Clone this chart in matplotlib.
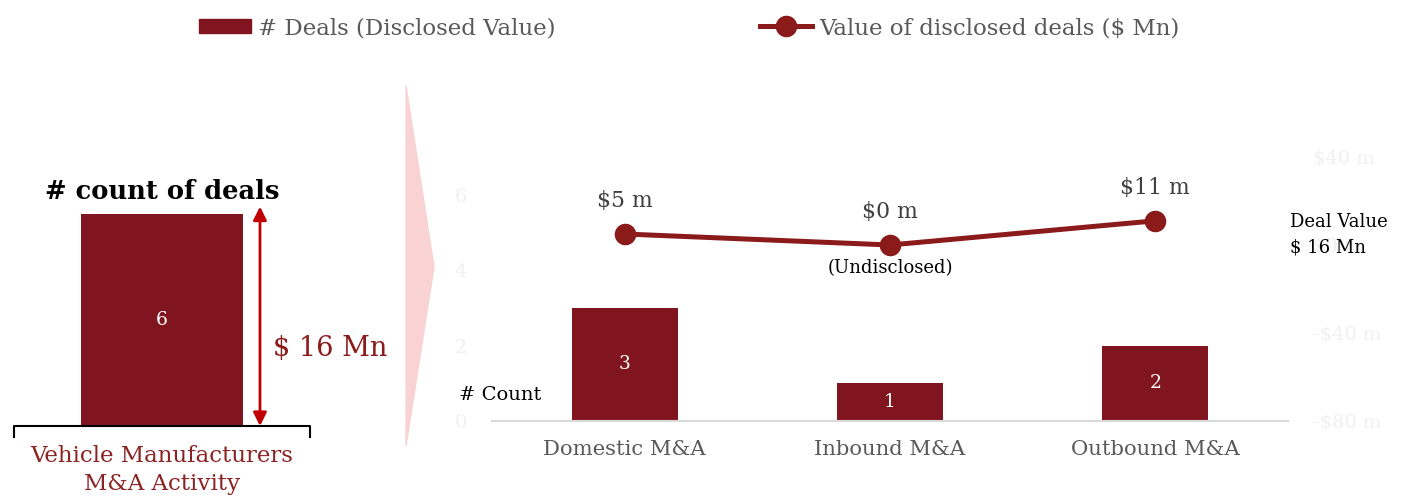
import numpy as np
import matplotlib
matplotlib.use('Agg')
import matplotlib.pyplot as plt
from matplotlib.patches import Patch, Polygon
from matplotlib.lines import Line2D

plt.rcParams['font.family'] = ['DejaVu Serif']

# dados
categorias = ['Domestic M&A', 'Inbound M&A', 'Outbound M&A']
num_deals = [3, 1, 2]
valor_deals = [5, 0, 11]
rotulos_valor = ['$5 m', '$0 m', '$11 m']
total_deals = 6
total_valor = '$ 16 Mn'
ticks_esq = [0, 2, 4, 6]
ticks_dir = [-80, -40, 0, 40]

cor_barra = '#80151f'
cor_linha = '#8b1a1a'
cinza = '#595959'
quase_branco = '#f0f0f0'

fig = plt.figure(figsize=(14.06, 4.97), dpi=100)
W, H = 1406, 497

# seta rosa de fundo
seta = Polygon([(406 / W, 1 - 86 / H), (434 / W, 1 - 267 / H), (406 / W, 1 - 446 / H)],
               closed=True, transform=fig.transFigure, color='#f9d3d3', zorder=0)
fig.add_artist(seta)

# painel da esquerda
ax0 = fig.add_axes([14 / W, 1 - 426 / H, 296 / W, 212 / H])
ax0.bar([0.5], [total_deals], width=0.547, color=cor_barra)
ax0.set_xlim(0, 1)
ax0.set_ylim(0, total_deals)
ax0.axis('off')
ax0.text(0.5, total_deals / 2, str(total_deals), color='white', ha='center', va='center', fontsize=13.5)
ax0.text(0.5, total_deals + 0.65, '# count of deals', ha='center', va='center',
         fontsize=18.5, fontweight='bold', color='black')
ax0.annotate('', xy=(0.831, 0), xytext=(0.831, total_deals * 1.035),
             arrowprops=dict(arrowstyle='<|-|>', color='#c00000', lw=2, mutation_scale=20,
                             shrinkA=0, shrinkB=0))
ax0.text(0.875, 2.2, total_valor, color=cor_linha, ha='left', va='center', fontsize=19.5)
ax0.plot([0, 0, 1, 1], [-0.31, 0, 0, -0.31], color='black', lw=1.5, clip_on=False)
ax0.text(0.5, -0.55, 'Vehicle Manufacturers\nM&A Activity', color='#8c2323', ha='center', va='top',
         fontsize=16.5, linespacing=1.35)

# grafico principal
ax1 = fig.add_axes([492 / W, 1 - 421 / H, 796 / W, 264 / H])
x = np.arange(len(categorias))
barras = ax1.bar(x, num_deals, width=0.4, color=cor_barra)
ax1.set_ylim(0, 7)
ax1.set_xlim(-0.5, len(categorias) - 0.5)
ax1.set_xticks(x)
ax1.set_xticklabels(categorias, color=cinza, fontsize=15.2)
ax1.set_yticks(ticks_esq)
ax1.tick_params(axis='x', length=0, pad=14)
ax1.tick_params(axis='y', length=0, pad=18, labelcolor=quase_branco, labelsize=14)
for s in ['top', 'left', 'right']:
    ax1.spines[s].set_visible(False)
ax1.spines['bottom'].set_color('#d9d9d9')
ax1.spines['bottom'].set_linewidth(1.5)
for b, v in zip(barras, num_deals):
    ax1.text(b.get_x() + b.get_width() / 2, v / 2, str(v), color='white', ha='center', va='center', fontsize=13.5)

ax2 = ax1.twinx()
ax2.plot(x, valor_deals, color=cor_linha, lw=3.6, marker='o', markersize=14.5)
ax2.set_ylim(-80, 40)
ax2.set_yticks(ticks_dir)
ax2.set_yticklabels([('-$%d m' % abs(t)) if t < 0 else ('$%d m' % t) for t in ticks_dir])
ax2.tick_params(axis='y', length=0, pad=18, labelcolor=quase_branco, labelsize=14)
for s in ['top', 'left', 'right', 'bottom']:
    ax2.spines[s].set_visible(False)
for xi, v, r in zip(x, valor_deals, rotulos_valor):
    ax2.annotate(r, (xi, v), xytext=(0, 16), textcoords='offset points', ha='center', va='bottom',
                 color='#404040', fontsize=15.8)
ax2.annotate('(Undisclosed)', (x[1], valor_deals[1]), xytext=(0, -10), textcoords='offset points',
             ha='center', va='top', color='black', fontsize=13)

fig.text(459 / W, 1 - 395 / H, '# Count', ha='left', va='center', fontsize=14, color='black')
fig.text(1290 / W, 1 - 235 / H, 'Deal Value\n$ 16 Mn', ha='left', va='center', fontsize=13,
         color='black', linespacing=1.55)

# legenda
handles = [Patch(color=cor_barra),
           Line2D([0], [0], color=cor_linha, lw=3.6, marker='o', markersize=14.5)]
fig.legend(handles, ['# Deals (Disclosed Value)', 'Value of disclosed deals ($ Mn)'],
           loc='center', bbox_to_anchor=(689 / W, 1 - 28 / H), ncol=2, frameon=False,
           fontsize=16.5, labelcolor=cinza, handlelength=2.3, handleheight=0.6,
           handletextpad=0.3, columnspacing=8.9)

fig.savefig('out.png', dpi=100)
